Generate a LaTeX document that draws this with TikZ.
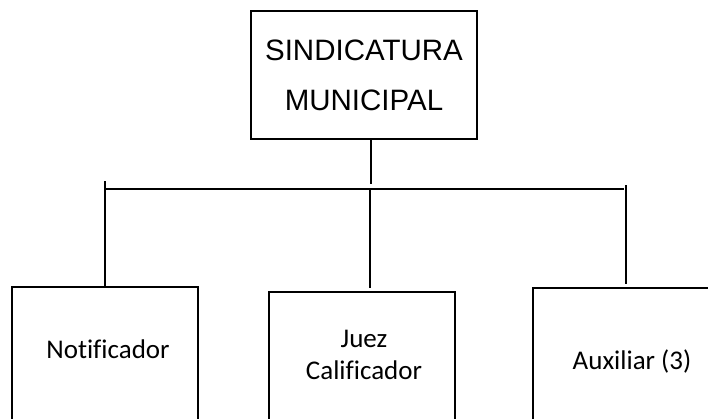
\documentclass[tikz,border=0pt]{standalone}
\usepackage{fontspec}
\setmainfont[Ligatures=NoCommon]{Carlito}
\newfontfamily\arialfont{Liberation Sans}
\usetikzlibrary{positioning}

\tikzset{
  orgbox/.style={draw, line width=1.6pt, minimum width=186pt, minimum height=150pt, inner sep=0pt, anchor=north},
  orgtext/.style={font=\fontsize{27}{32}\selectfont, align=center, inner sep=0pt},
  orgline/.style={line width=1.6pt}
}

\begin{document}
\begin{tikzpicture}[x=1pt,y=-1pt]
        \useasboundingbox (0,0) rectangle (708,418);
        \clip (0,0) rectangle (708,418);

        \node[draw, line width=1.6pt, minimum width=226pt, minimum height=128pt, inner sep=0pt,
              font=\arialfont\fontsize{29.5}{50}\selectfont, align=center] (sind) at (364,75) {SINDICATURA\\MUNICIPAL};

        \node[orgbox] (noti) at (105,286) {};
        \node[orgbox] (juez) at (362,291) {};
        \node[orgbox] (aux)  at (626,287) {};

        \node[orgtext, anchor=base] (notit) at (108,358) {Notificador};
        \node[orgtext] (juezt) at (364,355) {Juez\\Calificador};
        \node[orgtext, anchor=base] (auxt) at (632,369) {Auxiliar (3)};

        \coordinate (barL) at (105,181);
        \coordinate (barM) at (370,189);
        \coordinate (barR) at (626,185);
        \coordinate (midT) at (371,184);

        \draw[orgline] (midT |- sind.south) -- (midT);
        \draw[orgline] (barL |- barM) -- ([xshift=-2pt]barR |- barM);
        \draw[orgline] (barL) -- (noti.north);
        \draw[orgline] (barM) -- ([yshift=3pt]barM |- juez.north);
        \draw[orgline] (barR) -- ([yshift=3pt]aux.north);
    \end{tikzpicture}
\end{document}
